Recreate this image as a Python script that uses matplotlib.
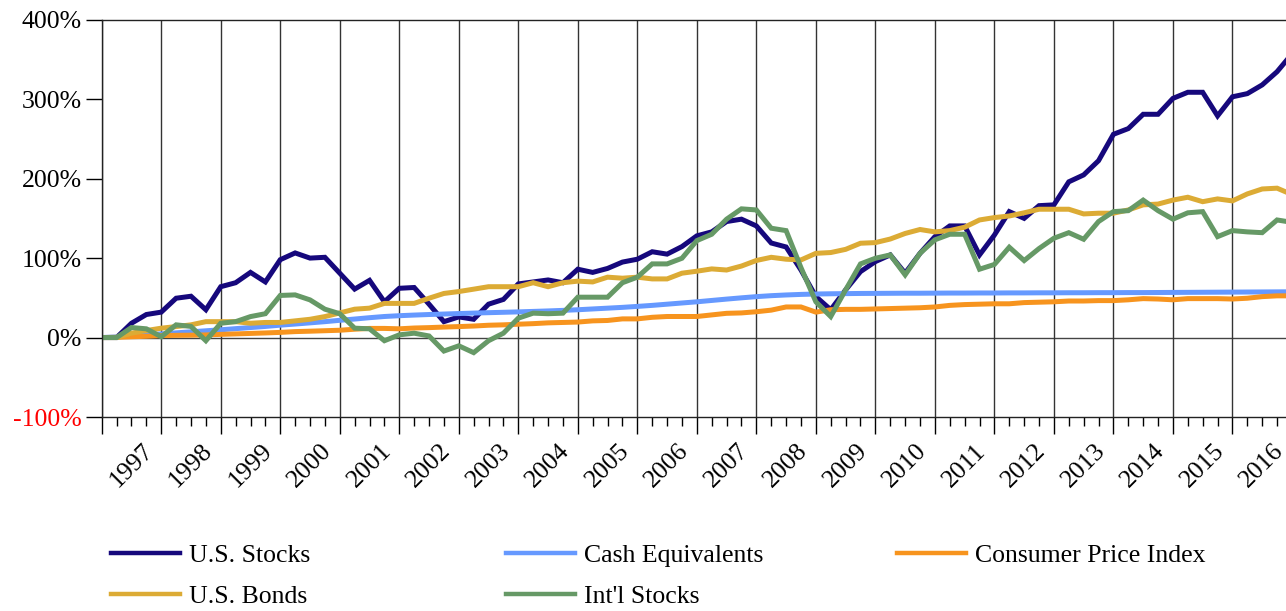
import numpy as np
import matplotlib.pyplot as plt
from matplotlib.lines import Line2D

# quarterly cumulative returns (%), Q1 1997 onwards
us_stocks = [0, 0, 18, 29, 32, 49.5, 52, 35, 64, 69, 82, 70, 98, 106.5, 100, 101,
             81, 61, 72, 45, 62, 63, 42, 20, 26, 23, 42, 48, 67.5, 70, 72.5, 69,
             86, 82, 87, 95, 98.6, 108, 105, 114.5, 128, 133, 146, 149, 140.5, 119, 114, 85,
             51.6, 35, 60, 83, 95.6, 104, 81, 106, 127, 140.5, 140.5, 104, 129, 158.5, 150, 166,
             167, 196, 204.7, 222.6, 255.8, 263, 281, 281, 301, 308.7, 308.7, 279, 303, 307, 318, 334.6,
             357]
cash = [0, 0.8, 2, 3.3, 4.6, 5.9, 7.2, 8.5, 9.8, 11.2, 12.6, 14, 15.6, 17, 18.5, 20,
        21.7, 23.3, 25, 26.5, 27.5, 28.3, 29, 29.6, 30.2, 30.8, 31.3, 31.8, 32.3, 32.9, 33.5, 34.2,
        35, 36, 37, 38, 39.2, 40.5, 42, 43.5, 45, 46.7, 48.4, 50, 51.5, 52.7, 53.6, 54.3,
        54.8, 55.1, 55.3, 55.5, 55.6, 55.7, 55.8, 55.8, 55.9, 56, 56, 56.1, 56.1, 56.2, 56.2, 56.3,
        56.3, 56.4, 56.4, 56.5, 56.5, 56.6, 56.6, 56.7, 56.8, 56.9, 57, 57.1, 57.2, 57.3, 57.4, 57.5,
        57.6]
cpi = [0, 0.3, 1, 1.6, 2.5, 2.8, 3, 3.3, 4, 4.6, 5.2, 5.8, 6.5, 7.5, 8, 8.6,
       9.2, 10.5, 11.5, 11.5, 11, 12, 12.5, 13.2, 13.8, 14.5, 15.5, 16, 16.8, 17.5, 18.5, 19,
       19.5, 21, 21.5, 23.5, 23.5, 25.5, 26.5, 26.5, 26.5, 28.5, 30.5, 31, 32.5, 34.5, 38.5, 38.5,
       32, 35, 35.5, 35.5, 36, 36.5, 37, 37.5, 38.5, 40.5, 41.5, 42, 42.5, 42.5, 44, 44.5,
       45, 46, 46, 46.5, 46.5, 47.5, 49, 48.5, 47.5, 49, 49, 49, 48.5, 49.5, 51.5, 52.5,
       52.5]
bonds = [0, 0, 5.5, 8.8, 11.8, 13.8, 16, 20, 20, 20, 18, 19, 19, 21, 23, 26.4,
         31, 35.7, 37, 43, 43, 43, 49.5, 55.5, 57.9, 60.9, 64, 64, 64, 69, 64, 69,
         71, 70, 76, 74.7, 76, 73.8, 73.8, 81, 83.5, 86.4, 85, 90, 97, 101, 98.6, 97.7,
         106, 107, 111, 118.7, 119.5, 124, 131, 136, 133, 134.6, 138.9, 148, 151, 153, 157, 161.5,
         161.5, 161.5, 155.6, 156.5, 156.5, 160.6, 167, 168, 173, 176.6, 171, 174.5, 172, 180.8, 187, 188,
         180]
intl = [0, 0, 12.6, 11, 1, 16, 14, -4, 18, 20, 26.4, 30, 53, 53.7, 47.4, 35.7,
        30, 11.8, 11, -4, 3.4, 5.5, 2, -17, -10.4, -19, -4, 5.5, 24.4, 30.7, 30, 30.7,
        50.8, 50.8, 50.8, 69, 76, 92.7, 92.7, 99.8, 122, 130, 149, 162, 160.6, 137.6, 134.6, 88,
        45, 26.4, 60, 92.7, 99.8, 104, 78.9, 106, 123, 130, 130, 86, 92, 113.7, 96.9, 112,
        125, 132, 123.7, 146, 158.5, 159.7, 173, 159.7, 149, 157, 158.5, 127, 134.6, 133, 132, 148,
        145]

years = list(range(1997, 2017))
x = 1997 + np.arange(len(us_stocks)) / 4

series = [
    ('U.S. Stocks', us_stocks, '#16087c'),
    ('Cash Equivalents', cash, '#6699ff'),
    ('Consumer Price Index', cpi, '#f7941e'),
    ('U.S. Bonds', bonds, '#dcab35'),
    ("Int'l Stocks", intl, '#669966'),
]

plt.rcParams['font.family'] = ['Liberation Serif', 'DejaVu Serif']
fs = 18.5

fig = plt.figure(figsize=(12.86, 6.11), dpi=100)
ax = fig.add_axes([0.0791, 0.3175, 0.9209, 0.6502])

handles = {}
for name, vals, col in series:
    ax.plot(x, vals, color=col, lw=3.6, solid_joinstyle='miter')
    handles[name] = Line2D([], [], color=col, lw=3.2)

ax.set_xlim(1997, 1997 + 79.6 / 4)
ax.set_ylim(-100, 400)

ax.set_yticks(range(-100, 401, 100))
ax.set_yticklabels([f'{v}%' for v in range(-100, 401, 100)], fontsize=fs)
ax.get_yticklabels()[0].set_color('red')
ax.tick_params(axis='y', direction='out', length=11.5, width=1, pad=3)

ax.set_xticks(years)
ax.set_xticks(x[(np.arange(len(x)) % 4) != 0], minor=True)
ax.set_xticklabels([])
ax.tick_params(axis='x', which='major', direction='out', length=12, width=1)
ax.tick_params(axis='x', which='minor', direction='out', length=6.5, width=1)
for yr in years:
    ax.text(yr + 0.5, -0.122, str(yr), transform=ax.get_xaxis_transform(),
            rotation=45, ha='center', va='center', fontsize=fs)

ax.grid(axis='x', which='major', color='#333333', lw=1)
ax.axhline(0, color='#444444', lw=1, zorder=1)
ax.spines['right'].set_visible(False)
for s in ['top', 'bottom', 'left']:
    ax.spines[s].set_color('#222222')
    ax.spines[s].set_linewidth(1)

cols = [(0.0863, ['U.S. Stocks', 'U.S. Bonds']),
        (0.3935, ['Cash Equivalents', "Int'l Stocks"]),
        (0.6975, ['Consumer Price Index'])]
for xpos, names in cols:
    fig.legend(handles=[handles[n] for n in names], labels=names,
               loc='upper left', bbox_to_anchor=(xpos, 0.1100), frameon=False,
               borderpad=0, borderaxespad=0, handlelength=2.68, handletextpad=0.35,
               labelspacing=0.72, fontsize=fs)

fig.savefig('out.png', dpi=100)
